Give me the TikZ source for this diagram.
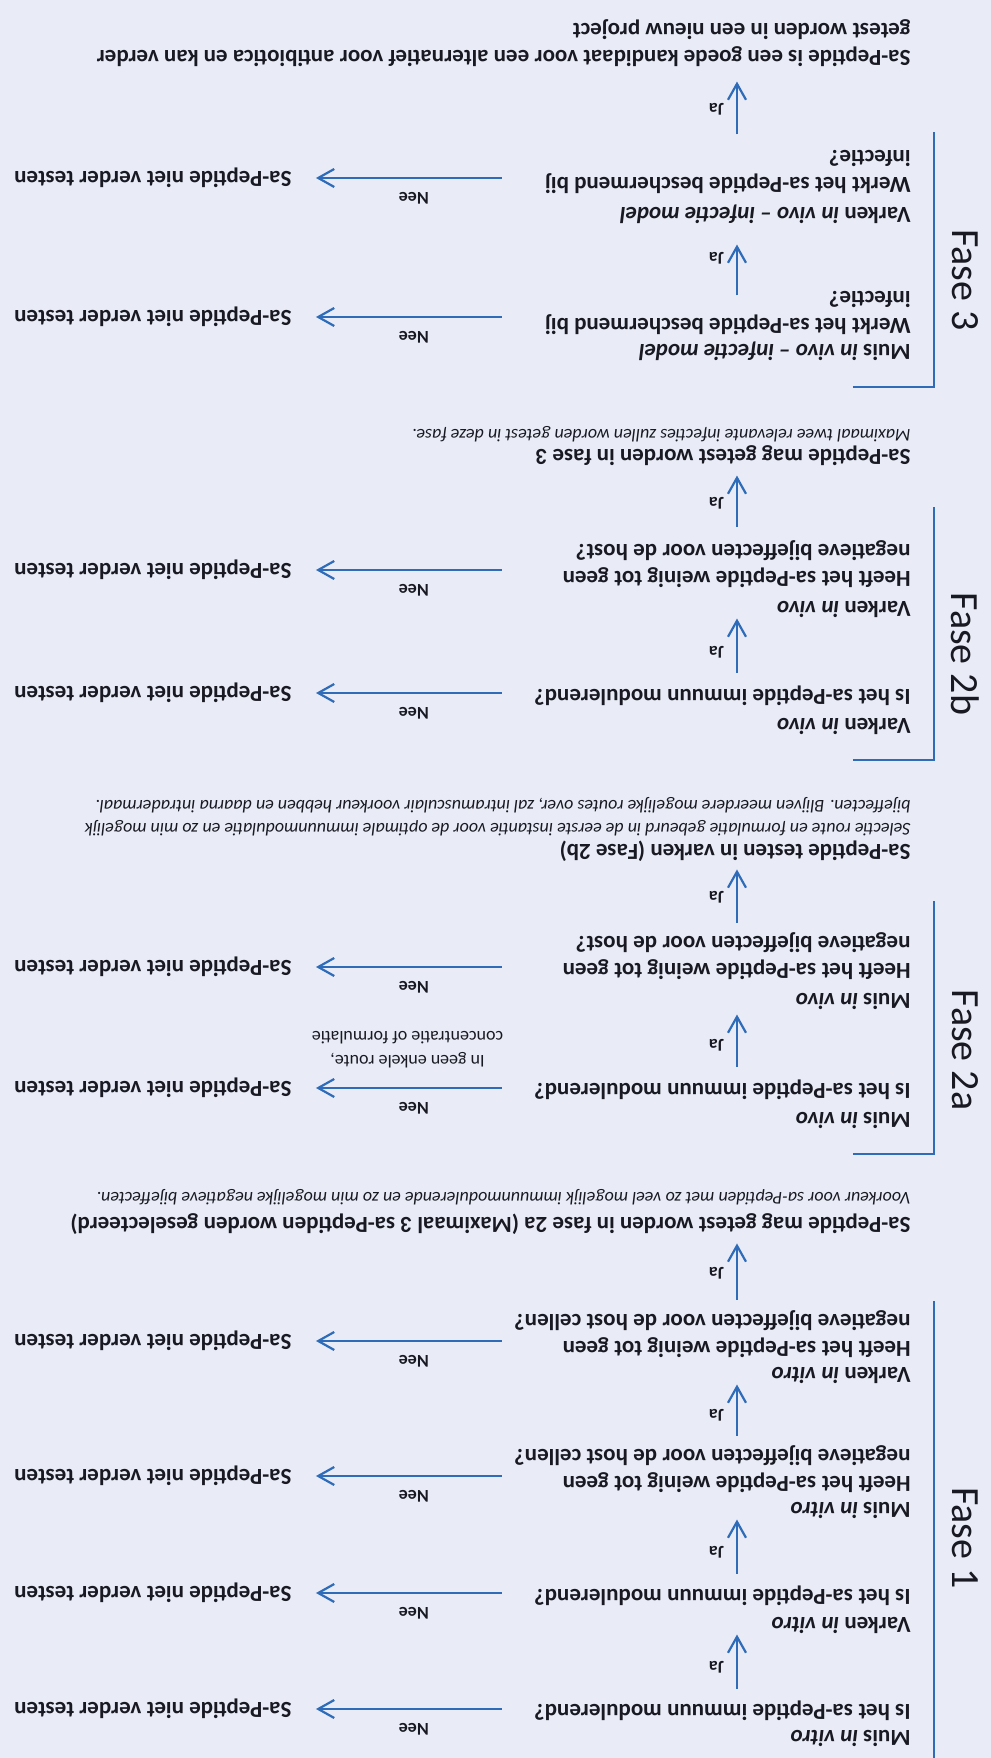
\documentclass[tikz,border=0pt]{standalone}
\usepackage{fontspec}
\setmainfont{Carlito}
\usepackage{tikz}
\usetikzlibrary{arrows.meta}
\usetikzlibrary{calc}
\definecolor{papier}{RGB}{233,236,246}
\definecolor{pijlblauw}{RGB}{46,108,186}
\definecolor{inkt}{RGB}{25,25,35}
\tikzset{node style kop/.style={anchor=base west, inner sep=0pt, text=inkt, align=left, font=\fontsize{11.5}{13.5}\selectfont\bfseries}}
\tikzset{node style stop/.style={anchor=west, inner sep=0pt, text=inkt, font=\fontsize{11.5}{13.5}\selectfont\bfseries}}
\tikzset{node style noot/.style={anchor=base west, inner sep=0pt, text=inkt, align=left, font=\fontsize{9}{11.5}\selectfont\itshape}}
\tikzset{node style label/.style={inner sep=0pt, text=inkt, font=\fontsize{9}{11}\selectfont\bfseries}}
\tikzset{node style fase/.style={rotate=90, inner sep=0pt, text=inkt, font=\fontsize{20}{24}\selectfont}}
\tikzset{pijl ja/.style={line width=1.1pt, color=pijlblauw, -{Straight Barb[length=8pt,width=9pt,line width=1.1pt]}}}
\tikzset{pijl nee/.style={pijl ja, shorten >=12pt}}
\tikzset{fase lijn/.style={line width=1.1pt, color=pijlblauw}}

\begin{document}
\begin{tikzpicture}[x=0.5pt,y=-0.5pt]
   % the scanned page lies upside down, so the whole chart is turned round
   % (base of a two line node is its last line)
   \begin{scope}[rotate=180,transform shape]
   \path[use as bounding box, fill=papier] (0,0) rectangle (991,1758);
   \coordinate (jax) at (254,0);
   \coordinate (neex) at (489,0);

   % fase 1
   \node[node style kop] (h1) at (80,27) {Muis \textit{in vitro}};
   \node[node style kop] (q1) at (80,54) {Is het sa-Peptide immuun modulerend?};
   \node[node style kop] (h2) at (80,140) {Varken \textit{in vitro}};
   \node[node style kop] (q2) at (80,168) {Is het sa-Peptide immuun modulerend?};
   \node[node style kop] (h3) at (80,255) {Muis \textit{in vitro}};
   \node[node style kop] (q3) at (80,308) {Heeft het sa-Peptide weinig tot geen\\negatieve bijeffecten voor de host cellen?};
   \node[node style kop] (h4) at (80,390) {Varken \textit{in vitro}};
   \node[node style kop] (q4) at (80,443) {Heeft het sa-Peptide weinig tot geen\\negatieve bijeffecten voor de host cellen?};
   \node[node style kop] (r1) at (80,540) {Sa-Peptide mag getest worden in fase 2a (Maximaal 3 sa-Peptiden worden geselecteerd)};
   \node[node style noot] (n1) at (80,565) {Voorkeur voor sa-Peptiden met zo veel mogelijk immuunmodulerende en zo min mogelijke negatieve bijeffecten.};

   % fase 2a
   \node[node style kop] (h5) at (80,645) {Muis \textit{in vivo}};
   \node[node style kop] (q5) at (80,674) {Is het sa-Peptide immuun modulerend?};
   \node[node style kop] (h6) at (80,764) {Muis \textit{in vivo}};
   \node[node style kop] (q6) at (80,821) {Heeft het sa-Peptide weinig tot geen\\negatieve bijeffecten voor de host?};
   \node[node style kop] (r2) at (80,913) {Sa-Peptide testen in varken (Fase 2b)};
   \node[node style noot] (n2) at (80,957) {Selectie route en formulatie gebeurd in de eerste instantie voor de optimale immuunmodulatie en zo min mogelijk\\bijeffecten. Blijven meerdere mogelijke routes over, zal intramusculair voorkeur hebben en daarna intradermaal.};

   % fase 2b
   \node[node style kop] (h7) at (80,1039) {Varken \textit{in vivo}};
   \node[node style kop] (q7) at (80,1068) {Is het sa-Peptide immuun modulerend?};
   \node[node style kop] (h8) at (80,1156) {Varken \textit{in vivo}};
   \node[node style kop] (q8) at (80,1213) {Heeft het sa-Peptide weinig tot geen\\negatieve bijeffecten voor de host?};
   \node[node style kop] (r3) at (80,1308) {Sa-Peptide mag getest worden in fase 3};
   \node[node style noot] (n3) at (80,1328) {Maximaal twee relevante infecties zullen worden getest in deze fase.};

   % fase 3
   \node[node style kop] (h9) at (80,1413) {Muis \textit{in vivo -- infectie model}};
   \node[node style kop] (q9) at (80,1466) {Werkt het sa-Peptide beschermend bij\\infectie?};
   \node[node style kop] (h10) at (80,1550) {Varken \textit{in vivo -- infectie model}};
   \node[node style kop] (q10) at (80,1607) {Werkt het sa-Peptide beschermend bij\\infectie?};
   \node[node style kop] (r4) at (80,1734) {Sa-Peptide is een goede kandidaat voor een alternatief voor antibiotica en kan verder\\getest worden in een nieuw project};

   % niet verder testen
   \node[node style stop] (s1) at (699,49) {Sa-Peptide niet verder testen};
   \node[node style stop] (s2) at (699,165) {Sa-Peptide niet verder testen};
   \node[node style stop] (s3) at (699,282) {Sa-Peptide niet verder testen};
   \node[node style stop] (s4) at (699,417) {Sa-Peptide niet verder testen};
   \node[node style stop] (s5) at (699,670) {Sa-Peptide niet verder testen};
   \node[node style stop] (s6) at (699,791) {Sa-Peptide niet verder testen};
   \node[node style stop] (s7) at (699,1065) {Sa-Peptide niet verder testen};
   \node[node style stop] (s8) at (699,1188) {Sa-Peptide niet verder testen};
   \node[node style stop] (s9) at (699,1441) {Sa-Peptide niet verder testen};
   \node[node style stop] (s10) at (699,1580) {Sa-Peptide niet verder testen};

   \draw [pijl nee] (s1.west -| neex) -- (s1.west) node[node style label, pos=0.42, above=6.5pt] (nee1) {Nee};
   \draw [pijl nee] (s2.west -| neex) -- (s2.west) node[node style label, pos=0.42, above=6.5pt] (nee2) {Nee};
   \draw [pijl nee] (s3.west -| neex) -- (s3.west) node[node style label, pos=0.42, above=6.5pt] (nee3) {Nee};
   \draw [pijl nee] (s4.west -| neex) -- (s4.west) node[node style label, pos=0.42, above=6.5pt] (nee4) {Nee};
   \draw [pijl nee] (s5.west -| neex) -- (s5.west) node[node style label, pos=0.42, above=6.5pt] (nee5) {Nee}
      node[pos=0.45, below=9.5pt, inner sep=0pt, text=inkt, align=center, font=\fontsize{9}{12}\selectfont] (route) {In geen enkele route,\\concentratie of formulatie};
   \draw [pijl nee] (s6.west -| neex) -- (s6.west) node[node style label, pos=0.42, above=6.5pt] (nee6) {Nee};
   \draw [pijl nee] (s7.west -| neex) -- (s7.west) node[node style label, pos=0.42, above=6.5pt] (nee7) {Nee};
   \draw [pijl nee] (s8.west -| neex) -- (s8.west) node[node style label, pos=0.42, above=6.5pt] (nee8) {Nee};
   \draw [pijl nee] (s9.west -| neex) -- (s9.west) node[node style label, pos=0.42, above=6.5pt] (nee9) {Nee};
   \draw [pijl nee] (s10.west -| neex) -- (s10.west) node[node style label, pos=0.42, above=6.5pt] (nee10) {Nee};

   % ja pijlen, shorten hacked per pijl to match the scan
   \draw [pijl ja, shorten <=5.5pt] (q1.south -| jax) -- (h2.north -| jax) node[node style label, midway, right=6pt] (ja1) {Ja};
   \draw [pijl ja, shorten <=6pt] (q2.south -| jax) -- (h3.north -| jax) node[node style label, midway, right=6pt] (ja2) {Ja};
   \draw [pijl ja, shorten <=5pt] (q3.south -| jax) -- (h4.north -| jax) node[node style label, midway, right=6pt] (ja3) {Ja};
   \draw [pijl ja, shorten <=5.5pt, shorten >=4pt] (q4.south -| jax) -- (r1.north -| jax) node[node style label, midway, right=6pt] (ja4) {Ja};
   \draw [pijl ja, shorten <=6.5pt, shorten >=2pt] (q5.south -| jax) -- (h6.north -| jax) node[node style label, midway, right=6pt] (ja5) {Ja};
   \draw [pijl ja, shorten <=5pt, shorten >=3.5pt] (q6.south -| jax) -- (r2.north -| jax) node[node style label, midway, right=6pt] (ja6) {Ja};
   \draw [pijl ja, shorten <=6.5pt] (q7.south -| jax) -- (h8.north -| jax) node[node style label, midway, right=6pt] (ja7) {Ja};
   \draw [pijl ja, shorten <=7pt, shorten >=4.5pt] (q8.south -| jax) -- (r3.north -| jax) node[node style label, midway, right=6pt] (ja8) {Ja};
   \draw [pijl ja, shorten <=-2pt, shorten >=10pt] (q9.south -| jax) -- (h10.north -| jax) node[node style label, midway, right=6pt] (ja9) {Ja};
   \draw [pijl ja, shorten <=8pt, shorten >=7pt] (q10.south -| jax) -- (r4.north -| jax) node[node style label, midway, right=6pt] (ja10) {Ja};

   % fase haken
   \draw [fase lijn] (57,-5) -- (57,457);
   \draw [fase lijn] (138,604) -- (57,604) -- (57,857);
   \draw [fase lijn] (138,998) -- (57,998) -- (57,1251);
   \draw [fase lijn] (138,1371) -- (57,1371) -- (57,1626);
   \node[node style fase] (f1) at (26,220) {Fase 1};
   \node[node style fase] (f2a) at (26,708) {Fase 2a};
   \node[node style fase] (f2b) at (26,1104) {Fase 2b};
   \node[node style fase] (f3) at (26,1478) {Fase 3};
   \end{scope}
\end{tikzpicture}
\end{document}
